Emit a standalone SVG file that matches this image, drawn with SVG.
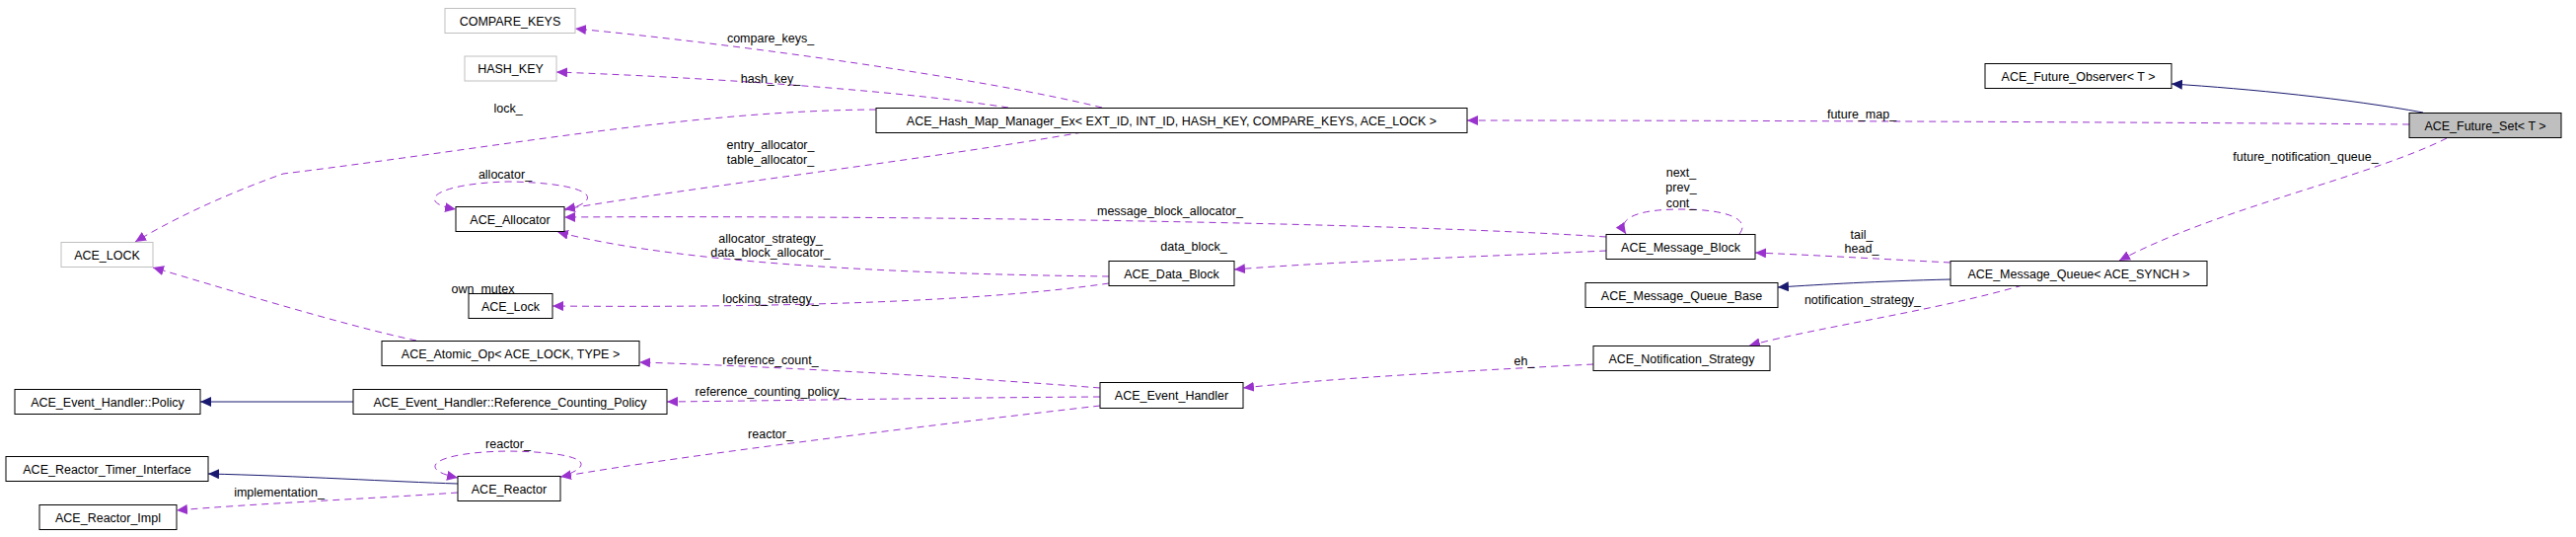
<svg xmlns="http://www.w3.org/2000/svg" width="2611" height="544" viewBox="0 0 2611 544">
<defs>
<style>
.n rect{fill:#fff;stroke:#000;stroke-width:1}
.g rect{fill:#fff;stroke:#bfbfbf;stroke-width:1}
text{font-family:"Liberation Sans",Arial,sans-serif;font-size:12.5px;fill:#000}
.n text,.g text{text-anchor:middle}
.l{text-anchor:middle}
.d{fill:none;stroke:#9a32cd;stroke-width:1;stroke-dasharray:7,5}
.i{fill:none;stroke:#191970;stroke-width:1}
</style>
<marker id="ap" markerUnits="userSpaceOnUse" markerWidth="12" markerHeight="10" refX="11" refY="5" orient="auto"><path d="M0,0 L11,5 L0,10 z" fill="#9a32cd"/></marker>
<marker id="ai" markerUnits="userSpaceOnUse" markerWidth="12" markerHeight="10" refX="11" refY="5" orient="auto"><path d="M0,0 L11,5 L0,10 z" fill="#191970"/></marker>
</defs>
<rect width="2611" height="544" fill="#fff"/>
<g id="edges">
<path class="d" marker-end="url(#ap)" d="M1117,109 C1000,80 750,45 583,29"/>
<path class="d" marker-end="url(#ap)" d="M1022,109 C900,90 700,78 564,73"/>
<path class="d" marker-end="url(#ap)" d="M888,111 C700,112 500,150 287,176 C220,200 170,225 137,245"/>
<path class="d" marker-end="url(#ap)" d="M1097,134 C950,160 700,190 572,212"/>
<path class="d" marker-end="url(#ap)" d="M573,213 C620,200 590,185 515,184 C440,186 420,205 462,212"/>
<path class="d" marker-end="url(#ap)" d="M1628,240 C1400,225 900,218 572,220"/>
<path class="d" marker-end="url(#ap)" d="M1124,280 C950,278 700,270 565,235"/>
<path class="d" marker-end="url(#ap)" d="M1124,287 C1000,305 800,312 560,310"/>
<path class="d" marker-end="url(#ap)" d="M1628,254 C1500,260 1350,265 1251,273"/>
<path class="d" marker-end="url(#ap)" d="M1763,237 C1775,222 1750,212 1704,212 C1650,212 1640,225 1648,237"/>
<path class="d" marker-end="url(#ap)" d="M422,345 C350,330 220,290 155,271"/>
<path class="d" marker-end="url(#ap)" d="M1115,393 C950,380 750,370 648,367"/>
<path class="d" marker-end="url(#ap)" d="M1115,402 C950,403 780,406 676,407"/>
<path class="i" marker-end="url(#ai)" d="M358,407 L203,407"/>
<path class="d" marker-end="url(#ap)" d="M1115,411 C950,430 700,460 568,483"/>
<path class="d" marker-end="url(#ap)" d="M566,484 C610,470 590,458 515,457 C440,458 420,475 464,484"/>
<path class="i" marker-end="url(#ai)" d="M464,490 C400,488 300,482 211,480"/>
<path class="d" marker-end="url(#ap)" d="M464,499 C380,505 260,510 179,517"/>
<path class="d" marker-end="url(#ap)" d="M1615,369 C1500,375 1350,383 1260,393"/>
<path class="d" marker-end="url(#ap)" d="M1977,266 C1900,262 1830,258 1779,256"/>
<path class="i" marker-end="url(#ai)" d="M1977,283 C1900,285 1850,288 1802,291"/>
<path class="d" marker-end="url(#ap)" d="M2050,289 C1960,315 1850,330 1773,350"/>
<path class="i" marker-end="url(#ai)" d="M2456,114 C2380,100 2280,90 2201,85"/>
<path class="d" marker-end="url(#ap)" d="M2442,126 C2200,124 1800,122 1487,122"/>
<path class="d" marker-end="url(#ap)" d="M2480,140 C2400,180 2250,210 2148,264"/>
<text class="l" x="781" y="43">compare_keys_</text>
<text class="l" x="781" y="84">hash_key_</text>
<text class="l" x="515" y="114">lock_</text>
<text class="l" x="781" y="151">entry_allocator_</text>
<text class="l" x="781" y="166">table_allocator_</text>
<text class="l" x="512" y="181">allocator_</text>
<text class="l" x="1186" y="218">message_block_allocator_</text>
<text class="l" x="781" y="246">allocator_strategy_</text>
<text class="l" x="781" y="260">data_block_allocator_</text>
<text class="l" x="781" y="307">locking_strategy_</text>
<text class="l" x="1210" y="254">data_block_</text>
<text class="l" x="1704" y="179">next_</text>
<text class="l" x="1704" y="194">prev_</text>
<text class="l" x="1704" y="210">cont_</text>
<text class="l" x="493" y="297">own_mutex_</text>
<text class="l" x="781" y="369">reference_count_</text>
<text class="l" x="781" y="401">reference_counting_policy_</text>
<text class="l" x="781" y="444">reactor_</text>
<text class="l" x="515" y="454">reactor_</text>
<text class="l" x="283" y="503">implementation_</text>
<text class="l" x="1545" y="370">eh_</text>
<text class="l" x="1887" y="242">tail_</text>
<text class="l" x="1887" y="256">head_</text>
<text class="l" x="1888" y="308">notification_strategy_</text>
<text class="l" x="1887" y="120">future_map_</text>
<text class="l" x="2337" y="163">future_notification_queue_</text>
</g>
<g id="COMPARE_KEYS" class="g"><rect x="451" y="8.5" width="132" height="25"/><text x="517" y="25.5">COMPARE_KEYS</text></g>
<g id="HASH_KEY" class="g"><rect x="471" y="57" width="93" height="25"/><text x="517.5" y="74">HASH_KEY</text></g>
<g id="ACE_LOCK" class="g"><rect x="62" y="245.5" width="93" height="25"/><text x="108.5" y="262.5">ACE_LOCK</text></g>
<g id="ACE_Allocator" class="n"><rect x="462" y="209.5" width="110" height="25"/><text x="517" y="226.5">ACE_Allocator</text></g>
<g id="ACE_Lock" class="n"><rect x="475" y="297.5" width="85" height="25"/><text x="517.5" y="314.5">ACE_Lock</text></g>
<g id="ACE_Atomic_Op" class="n"><rect x="387" y="345.5" width="261" height="25"/><text x="517.5" y="362.5">ACE_Atomic_Op&lt; ACE_LOCK, TYPE &gt;</text></g>
<g id="ACE_Event_Handler_Policy" class="n"><rect x="15" y="394.5" width="188" height="25"/><text x="109" y="411.5">ACE_Event_Handler::Policy</text></g>
<g id="ACE_Event_Handler_Reference_Counting_Policy" class="n"><rect x="358" y="394.5" width="318" height="25"/><text x="517" y="411.5">ACE_Event_Handler::Reference_Counting_Policy</text></g>
<g id="ACE_Reactor_Timer_Interface" class="n"><rect x="6" y="462.5" width="205" height="25"/><text x="108.5" y="479.5">ACE_Reactor_Timer_Interface</text></g>
<g id="ACE_Reactor" class="n"><rect x="464" y="482.5" width="104" height="25"/><text x="516" y="499.5">ACE_Reactor</text></g>
<g id="ACE_Reactor_Impl" class="n"><rect x="40" y="511.5" width="139" height="25"/><text x="109.5" y="528.5">ACE_Reactor_Impl</text></g>
<g id="ACE_Hash_Map_Manager_Ex" class="n"><rect x="888" y="109.5" width="599" height="25"/><text x="1187.5" y="126.5">ACE_Hash_Map_Manager_Ex&lt; EXT_ID, INT_ID, HASH_KEY, COMPARE_KEYS, ACE_LOCK &gt;</text></g>
<g id="ACE_Message_Block" class="n"><rect x="1628" y="237.5" width="151" height="25"/><text x="1703.5" y="254.5">ACE_Message_Block</text></g>
<g id="ACE_Data_Block" class="n"><rect x="1124" y="264.5" width="127" height="25"/><text x="1187.5" y="281.5">ACE_Data_Block</text></g>
<g id="ACE_Message_Queue_Base" class="n"><rect x="1607" y="286.5" width="195" height="25"/><text x="1704.5" y="303.5">ACE_Message_Queue_Base</text></g>
<g id="ACE_Notification_Strategy" class="n"><rect x="1615" y="350.5" width="179" height="25"/><text x="1704.5" y="367.5">ACE_Notification_Strategy</text></g>
<g id="ACE_Event_Handler" class="n"><rect x="1115" y="387.5" width="145" height="26"/><text x="1187.5" y="405">ACE_Event_Handler</text></g>
<g id="ACE_Future_Observer" class="n"><rect x="2012" y="64.5" width="189" height="25"/><text x="2106.5" y="81.5">ACE_Future_Observer&lt; T &gt;</text></g>
<g id="ACE_Future_Set" class="n"><rect x="2442" y="114.5" width="154" height="25" style="fill:#bfbfbf"/><text x="2519" y="131.5">ACE_Future_Set&lt; T &gt;</text></g>
<g id="ACE_Message_Queue" class="n"><rect x="1977" y="264.5" width="260" height="25"/><text x="2107" y="281.5">ACE_Message_Queue&lt; ACE_SYNCH &gt;</text></g>
</svg>
